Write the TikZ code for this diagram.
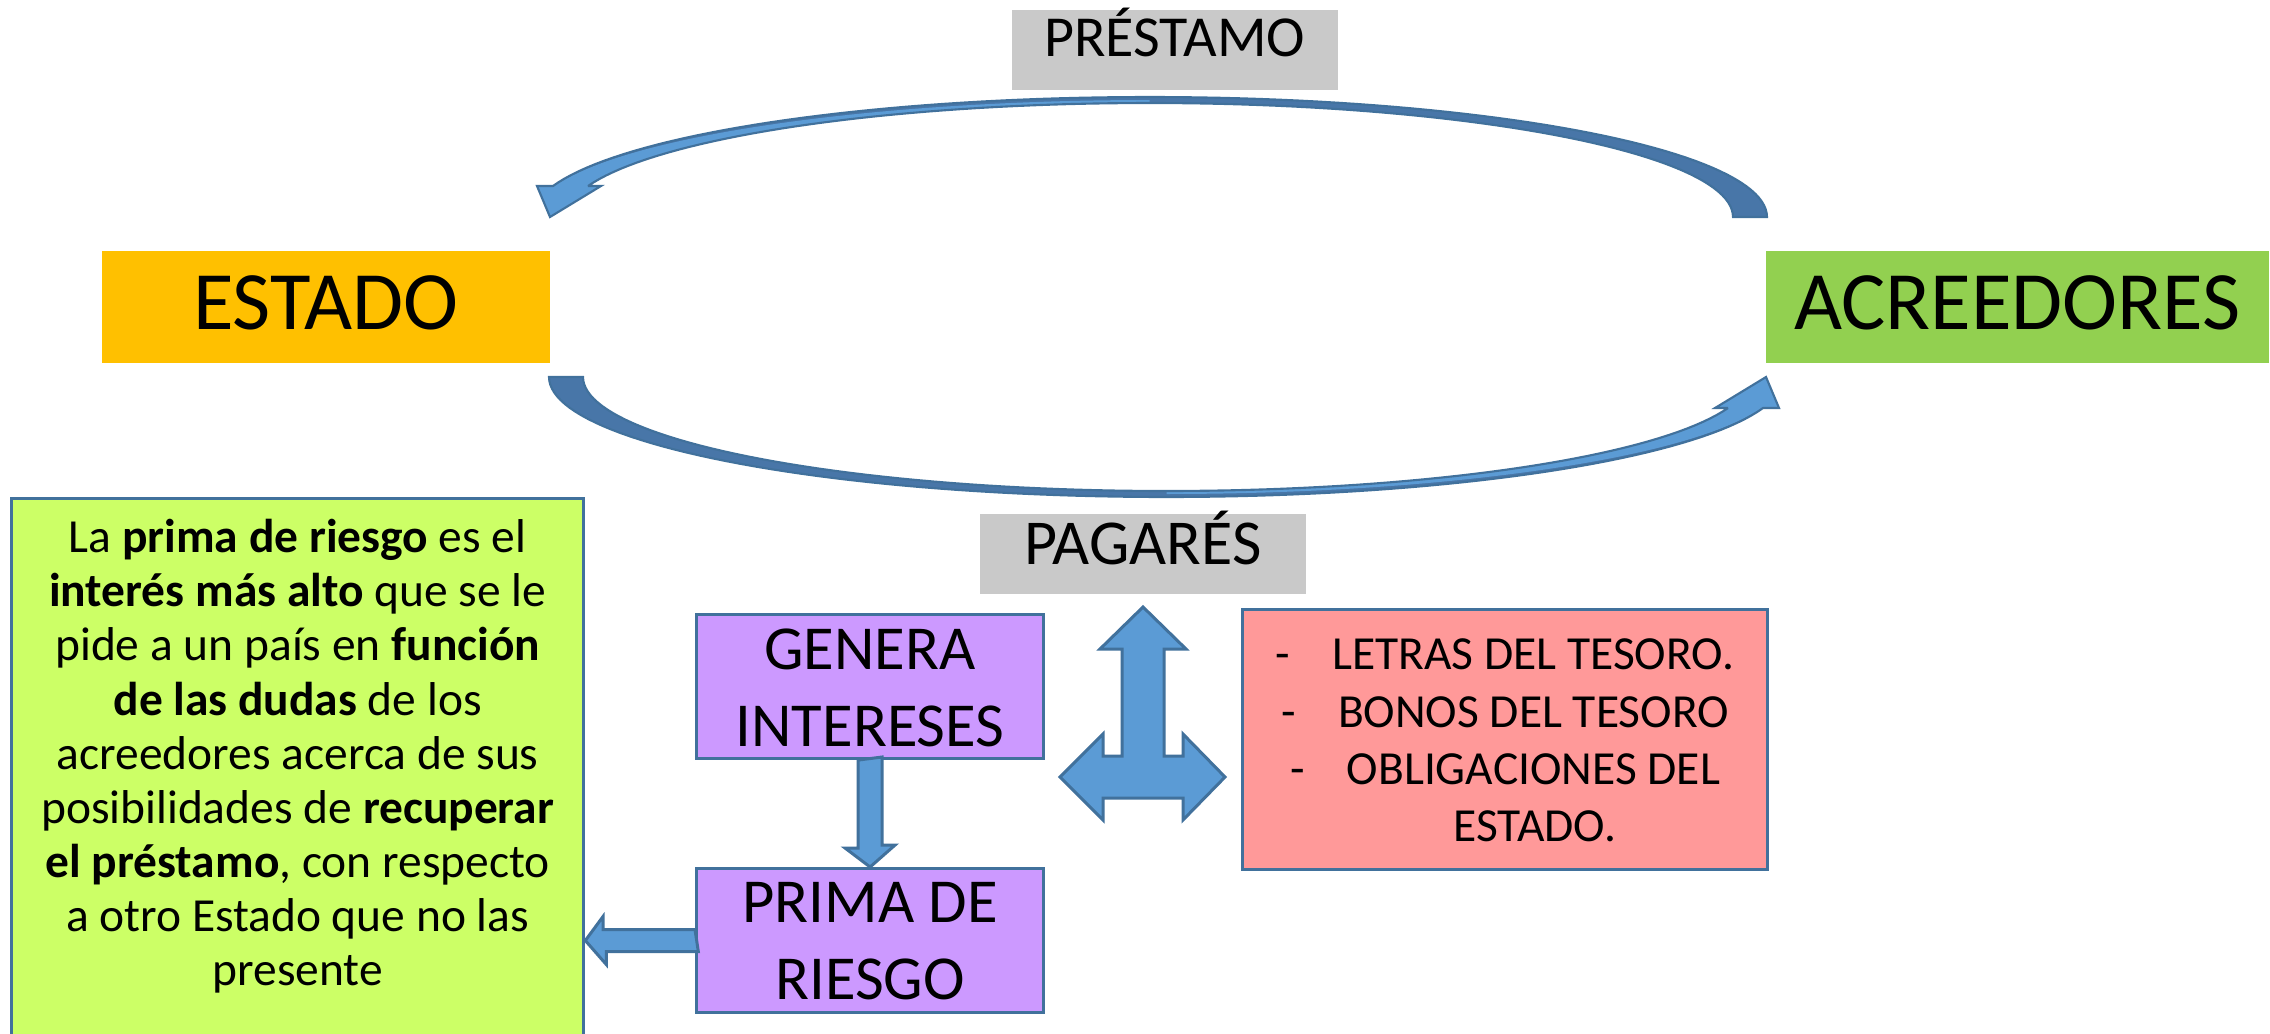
\documentclass[tikz,border=0pt]{standalone}
\usepackage{fontspec}
\setmainfont{Carlito}
\definecolor{lblue}{HTML}{5B9BD5}
\definecolor{dblue}{HTML}{4876A8}
\definecolor{oblue}{HTML}{41719C}
\definecolor{graybox}{HTML}{C9C9C9}
\definecolor{estadoc}{HTML}{FFC000}
\definecolor{acreec}{HTML}{92D050}
\definecolor{limec}{HTML}{CCFF66}
\definecolor{purpc}{HTML}{CC99FF}
\definecolor{pinkc}{HTML}{FF9999}
\begin{document}
\begin{tikzpicture}[x=0.01cm,y=-0.01cm,
  box/.style={rectangle, inner xsep=0pt, inner ysep=0pt, align=center, anchor=north west},
  outl/.style={draw=oblue, line width=0.85pt},
  blk/.style={fill=lblue, draw=oblue, line width=0.85pt, line join=miter},
  arcline/.style={draw=oblue, line width=0.6pt, line join=miter},
  bigf/.style={font=\fontsize{23.6pt}{28pt}\selectfont},
  midf/.style={font=\fontsize{17.8pt}{21.8pt}\selectfont},
  smallf/.style={font=\fontsize{13.5pt}{15.4pt}\selectfont},
]
\useasboundingbox (0,0) rectangle (2270,1033);
\fill[white] (0,0) rectangle (2270,1033);

% main boxes
\node[box, bigf, fill=estadoc, minimum width=4.48cm, text height=0.79cm, text depth=0.33cm] (estado) at (101,250) {ESTADO};
\node[box, bigf, fill=acreec, minimum width=5.03cm, text height=0.79cm, text depth=0.33cm] (acree) at (1765,250) {ACREEDORES};
\node[box, fill=graybox, minimum width=3.26cm, text height=0.47cm, text depth=0.33cm, font=\fontsize{16.5pt}{20pt}\selectfont] (prestamo) at (1011,9) {PRÉSTAMO};
\node[box, fill=graybox, minimum width=3.26cm, text height=0.51cm, text depth=0.29cm, font=\fontsize{18.2pt}{22pt}\selectfont] (pagares) at (979,513) {PAGARÉS};

\node[box, midf, outl, fill=purpc, minimum width=3.47cm, text height=1.32cm, text depth=0.12cm] (gen) at (695,613) {GENERA\\INTERESES};
\node[box, midf, outl, fill=purpc, minimum width=3.47cm, text height=1.31cm, text depth=0.13cm] (prima) at (695,867) {PRIMA DE\\RIESGO};

\node[box, outl, fill=pinkc, minimum width=5.25cm, text height=2.32cm, text depth=0.28cm, font=\fontsize{13.5pt}{16.3pt}\selectfont] (tipos) at (1241,608)
 {-\hspace{0.42cm}LETRAS DEL TESORO.\\
  -\hspace{0.42cm}BONOS DEL TESORO\\
  -\hspace{0.42cm}OBLIGACIONES DEL\\
  \hspace*{0.6cm}ESTADO.};

\node[box, smallf, outl, fill=limec, minimum width=5.72cm, text height=4.87cm, text depth=0.65cm] (txt) at (10,497)
 {La \textbf{prima de riesgo} es el\\
  \textbf{interés más alto} que se le\\
  pide a un país en \textbf{función}\\
  \textbf{de las dudas} de los\\
  acreedores acerca de sus\\
  posibilidades de \textbf{recuperar}\\
  \textbf{el préstamo}, con respecto\\
  a otro Estado que no las\\
  presente};

% curved arrow ACREEDORES -> ESTADO (top)
\fill[dblue]
  plot[domain=0:165.03, samples=90] ({1149.5+617.5*cos(\x)},{217-120*sin(\x)})
  -- (537,186) -- (550,217) -- (601,186) -- (588,186)
  -- plot[domain=164.22:0, samples=90] ({1149.5+583.5*cos(\x)},{217-114*sin(\x)})
  -- cycle;
\fill[lblue]
  plot[domain=90:165.03, samples=50] ({1149.5+617.5*cos(\x)},{217-117*sin(\x)})
  -- (537,186) -- (550,217) -- (601,186) -- (588,186)
  -- plot[domain=164.22:90, samples=50] ({1149.5+583.5*cos(\x)},{217-114*sin(\x)})
  -- cycle;
\draw[arcline]
  plot[domain=0:165.03, samples=90] ({1149.5+617.5*cos(\x)},{217-120*sin(\x)})
  -- (537,186) -- (550,217) -- (601,186) -- (588,186)
  -- plot[domain=164.22:0, samples=90] ({1149.5+583.5*cos(\x)},{217-114*sin(\x)})
  -- cycle;

% curved arrow ESTADO -> ACREEDORES (bottom)
\begin{scope}[rotate around={180:(1158,297)}]
\fill[dblue]
  plot[domain=0:165.03, samples=90] ({1149.5+617.5*cos(\x)},{217-120*sin(\x)})
  -- (537,186) -- (550,217) -- (601,186) -- (588,186)
  -- plot[domain=164.22:0, samples=90] ({1149.5+583.5*cos(\x)},{217-114*sin(\x)})
  -- cycle;
\fill[lblue]
  plot[domain=90:165.03, samples=50] ({1149.5+617.5*cos(\x)},{217-117*sin(\x)})
  -- (537,186) -- (550,217) -- (601,186) -- (588,186)
  -- plot[domain=164.22:90, samples=50] ({1149.5+583.5*cos(\x)},{217-114*sin(\x)})
  -- cycle;
\draw[arcline]
  plot[domain=0:165.03, samples=90] ({1149.5+617.5*cos(\x)},{217-120*sin(\x)})
  -- (537,186) -- (550,217) -- (601,186) -- (588,186)
  -- plot[domain=164.22:0, samples=90] ({1149.5+583.5*cos(\x)},{217-114*sin(\x)})
  -- cycle;
\end{scope}

% left-right-up arrow
\filldraw[blk] (1143,607) -- (1186,649) -- (1164,649) -- (1164,756) -- (1183,756) -- (1183,734)
  -- (1225,777) -- (1183,820) -- (1183,798) -- (1103,798) -- (1103,820) -- (1060,777)
  -- (1103,734) -- (1103,756) -- (1122,756) -- (1122,649) -- (1100,649) -- cycle;

% GENERA -> PRIMA
\filldraw[blk] (gen.south) ++(-12,0) -- ++(0,88) -- ++(-13,0) -- (prima.north)
  -- ++(25,-22) -- ++(-13,0) -- ++(0,-88) -- cycle;

% PRIMA -> text
\filldraw[blk] (prima.west) ++(0,-11) -- ++(-92,0) -- ++(0,-13) -- (prima.west -| txt.east)
  -- ++(21,24) -- ++(0,-13) -- ++(92,0) -- cycle;
\end{tikzpicture}
\end{document}
